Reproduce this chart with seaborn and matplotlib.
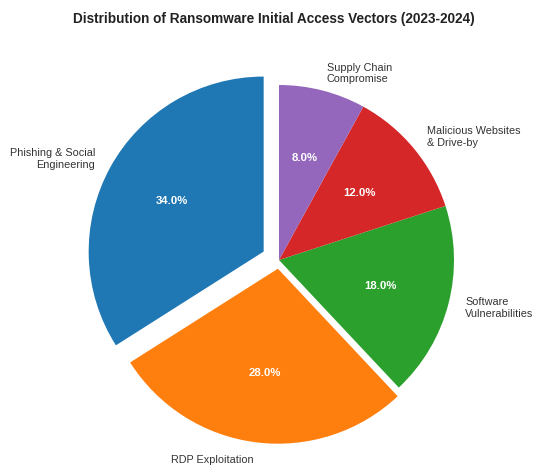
import matplotlib
matplotlib.use("Agg")
import matplotlib.pyplot as plt
import seaborn as sns

# Share of initial access vectors (percent)
vectors = [
    "Phishing & Social\nEngineering",
    "RDP Exploitation",
    "Software\nVulnerabilities",
    "Malicious Websites\n& Drive-by",
    "Supply Chain\nCompromise",
]
shares = [34, 28, 18, 12, 8]
explode = [0.1, 0.05, 0, 0, 0]

sns.set_theme(style="white")
plt.rcParams['font.family'] = ['Liberation Sans', 'DejaVu Sans']
colors = sns.color_palette("tab10", len(shares))

fig = plt.figure(figsize=(5.33, 4.68), dpi=100)
# axes sized so that the pie radius is ~175 px, centred at (279, 260) px
r_px = 175
lim = 1.15
side = 2 * lim * r_px
cx, cy = 279, 468 - 260
ax = fig.add_axes([(cx - side / 2) / 533, (cy - side / 2) / 468, side / 533, side / 468])

wedges, texts, autotexts = ax.pie(
    shares,
    labels=vectors,
    colors=colors,
    explode=explode,
    startangle=90,
    autopct='%1.1f%%',
    pctdistance=0.6,
    labeldistance=1.1,
    wedgeprops=dict(edgecolor='none'),
    textprops=dict(fontsize=7.8, color='#333333'),
)
for t in autotexts:
    t.set_color('white')
    t.set_fontweight('bold')
    t.set_fontsize(8.2)

ax.set_xlim(-lim, lim)
ax.set_ylim(-lim, lim)
ax.set_aspect('equal')
ax.axis('off')

fig.suptitle('Distribution of Ransomware Initial Access Vectors (2023-2024)',
             fontsize=9.8, fontweight='bold', color='#222222', x=0.513, y=0.975)

fig.savefig('out.png', dpi=100)
